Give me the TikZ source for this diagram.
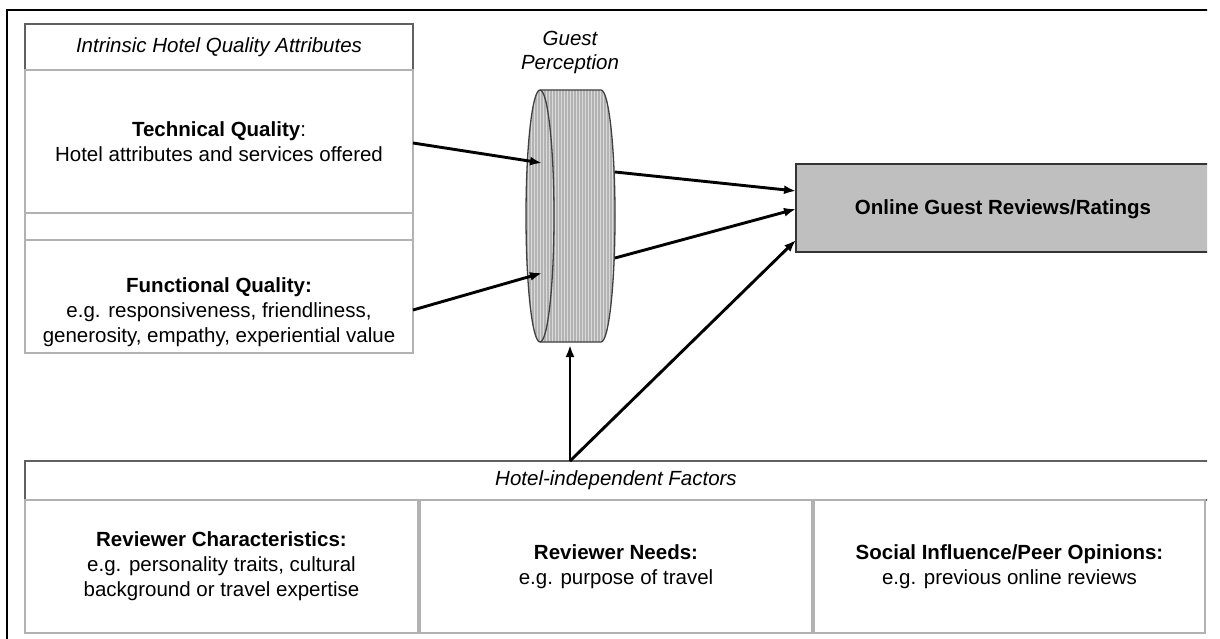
\documentclass[tikz,border=0pt]{standalone}
\usepackage{fontspec}
\setmainfont{Liberation Sans}
\usetikzlibrary{arrows.meta,patterns}
\begin{document}
\begin{tikzpicture}[x=1pt,y=-1pt,
  box/.style={draw=gray!60, line width=1.5pt, fill=white, inner sep=0pt, align=center,
    font=\fontsize{20.5}{25}\selectfont},
  hdr/.style={box, draw=gray!75!black},
  txt/.style={font=\fontsize{20.5}{25}\selectfont, align=center},
  arr/.style={-{Latex[length=12pt,width=9pt]}, line width=2.9pt, black}]
\useasboundingbox (0,0) rectangle (1220,639);
\begin{scope}
\clip (0,0) rectangle (1207,639);
% outer frame
\draw[line width=2.2pt] (7,640) -- (7,10) -- (1210,10);
% left column
\node[hdr, minimum width=388pt, minimum height=46pt, font=\fontsize{20.5}{25}\selectfont\itshape] (intr) at (219,47) {Intrinsic Hotel Quality Attributes};
\node[box, minimum width=388pt, minimum height=143pt] (tech) at (219,141.5) {\textbf{Technical Quality}:\\Hotel attributes and services offered};
\node[box, minimum width=388pt, minimum height=27pt] (gap) at (219,226.5) {};
\node[box, minimum width=388pt, minimum height=113pt] (func) at (219,296.5) {};
\node[txt] (functxt) at (219,312) {\textbf{Functional Quality:}\\e.g. responsiveness, friendliness,\\generosity, empathy, experiential value};
% output box
\node[draw=black!80, line width=2pt, fill=gray!50, minimum width=416pt, minimum height=88pt, inner sep=0pt] (online) at (1004,208) {};
\node[txt, font=\fontsize{20.5}{25}\selectfont\bfseries] (onlinetxt) at (1003,209) {Online Guest Reviews/Ratings};
% bottom row
\node[hdr, minimum width=1187pt, minimum height=39pt] (hif) at (618.5,480.5) {};
\node[txt, font=\fontsize{20.5}{25}\selectfont\itshape] (hiftxt) at (616,480) {Hotel-independent Factors};
\node[box, minimum width=393pt, minimum height=133pt] (rc) at (221.5,566.5) {\textbf{Reviewer Characteristics:}\\e.g. personality traits, cultural\\background or travel expertise};
\node[box, minimum width=392pt, minimum height=133pt] (rn) at (616,566.5) {\textbf{Reviewer Needs:}\\e.g. purpose of travel};
\node[box, minimum width=391pt, minimum height=133pt] (si) at (1009.5,566.5) {\textbf{Social Influence/Peer Opinions:}\\e.g. previous online reviews};
% cylinder
\draw[preaction={fill=gray!60}, pattern=vertical lines, pattern color=gray!28, draw=black!75, line width=1.3pt]
  (540,90) -- (601,90) arc[start angle=90,end angle=-90,x radius=14pt,y radius=126pt]
  -- (540,342) arc[start angle=270,end angle=90,x radius=14pt,y radius=126pt] -- cycle;
\draw[draw=black!75, line width=1.3pt] (540,90) arc[start angle=90,end angle=-90,x radius=14pt,y radius=126pt];
\node[txt, font=\fontsize{20.5}{24}\selectfont\itshape] (gp) at (570,52) {Guest\\Perception};
% coordinates
\coordinate (cylL1) at (542,163);
\coordinate (cylL2) at (542,273);
\coordinate (cylR1) at (615,172);
\coordinate (cylR2) at (615,258);
\coordinate (cylB) at (570,345);
\coordinate (techout) at (413,143);
\coordinate (funcout) at (413,310);
\coordinate (on1) at (796,191);
\coordinate (on2) at (796,209);
\coordinate (on3) at (796,240);
\coordinate (hiftop) at (570,461);
% arrows
\draw[arr] (techout) -- (cylL1);
\draw[arr] (funcout) -- (cylL2);
\draw[arr] (cylR1) -- (on1);
\draw[arr] (cylR2) -- (on2);
\draw[arr] (hiftop) -- (cylB);
\draw[arr] (hiftop) -- (on3);
\end{scope}
\end{tikzpicture}
\end{document}
